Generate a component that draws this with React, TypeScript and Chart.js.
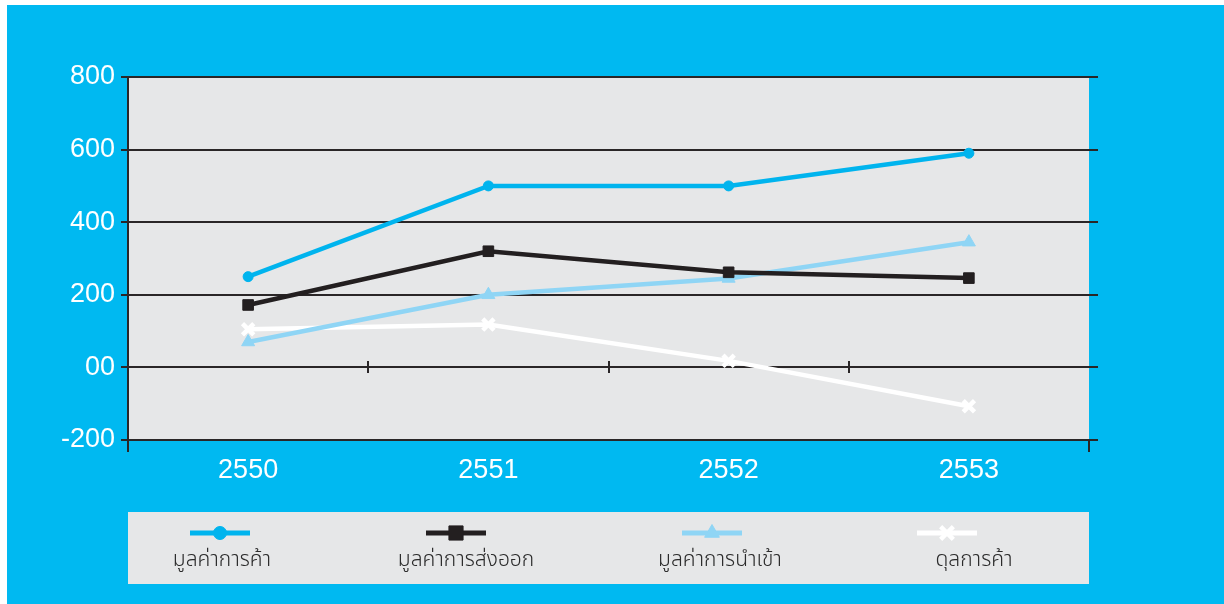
import React, { useEffect, useRef } from 'react';
import { Chart, registerables } from 'chart.js';
import { drawPoint } from 'chart.js/helpers';

Chart.register(...registerables);

// ---------- data ----------
const YEARS = ['2550', '2551', '2552', '2553'];
const TRADE_VALUE = [250, 500, 500, 590];
const EXPORT_VALUE = [172, 320, 262, 246];
const IMPORT_VALUE = [70, 200, 245, 345];
const TRADE_BALANCE = [105, 118, 18, -107];
const SERIES_LABELS = ['มูลค่าการค้า', 'มูลค่าการส่งออก', 'มูลค่าการนำเข้า', 'ดุลการค้า'];
const Y_TICKS = [-200, 0, 200, 400, 600, 800];
const Y_TICK_LABELS = ['-200', '00', '200', '400', '600', '800'];

// ---------- style ----------
const BG = '#00B9F1';
const PLOT_BG = '#E6E7E8';
const AXIS = '#2A2627';
const COLORS = ['#00B4EE', '#231F20', '#8FD5F5', '#FFFFFF'];
const STYLES = ['circle', 'rect', 'triangle', 'crossRot'];
const POINT_R = [5, 7.5, 7.5, 8];
const POINT_BW = [1, 1, 1, 4.5];
const LEGEND_R = [6.5, 10, 8.5, 9];
const LEGEND_BW = [1, 1, 1, 4.5];
const NUM_FONT = '"Liberation Sans", Arial, Helvetica, sans-serif';
const THAI_FONT = '"Noto Sans Thai", "Noto Sans Thai Looped", Loma, Garuda, "Tlwg Typo", "Noto Sans", sans-serif';

// layout (canvas coordinates)
const CANVAS_W = 1217;
const CANVAS_H = 599;
const LEGEND_BOX = { x: 121, y: 507, w: 961, h: 72 };
const LEGEND_LINE_X = [213, 449, 705, 940];
const LEGEND_TEXT_X = [215, 459, 713, 967];
const LEGEND_LINE_Y = 528;
const LEGEND_TEXT_Y = 557;
const LEGEND_LINE_HALF = 30;

const decor = {
  id: 'decor',
  beforeDraw(chart: any) {
    const { ctx, chartArea: a } = chart;
    ctx.save();
    ctx.fillStyle = PLOT_BG;
    ctx.fillRect(a.left, a.top, a.right - a.left, a.bottom - a.top);
    ctx.fillRect(LEGEND_BOX.x, LEGEND_BOX.y, LEGEND_BOX.w, LEGEND_BOX.h);
    ctx.restore();
  },
  beforeDatasetsDraw(chart: any) {
    const { ctx, chartArea: a } = chart;
    const xs = chart.scales.x;
    const ys = chart.scales.y;
    ctx.save();
    ctx.strokeStyle = AXIS;
    ctx.lineWidth = 2;
    const line = (x1: number, y1: number, x2: number, y2: number) => {
      ctx.beginPath();
      ctx.moveTo(x1, y1);
      ctx.lineTo(x2, y2);
      ctx.stroke();
    };
    ys.ticks.forEach((t: any) => {
      const py = Math.round(ys.getPixelForValue(t.value));
      line(a.right - 1, py, a.right + 9, py);
    });
    line(a.left, a.bottom, a.left, a.bottom + 12);
    line(a.right, a.bottom, a.right, a.bottom + 12);
    const y0 = Math.round(ys.getPixelForValue(0));
    for (let i = 1; i < YEARS.length; i++) {
      const bx = Math.round((xs.getPixelForValue(i - 1) + xs.getPixelForValue(i)) / 2);
      line(bx, y0 - 6, bx, y0 + 6);
    }
    ctx.restore();
  },
  afterDraw(chart: any) {
    const { ctx } = chart;
    ctx.save();
    chart.data.datasets.forEach((ds: any, i: number) => {
      const cx = LEGEND_LINE_X[i];
      ctx.strokeStyle = COLORS[i];
      ctx.fillStyle = COLORS[i];
      ctx.lineWidth = 5;
      ctx.beginPath();
      ctx.moveTo(cx - LEGEND_LINE_HALF, LEGEND_LINE_Y);
      ctx.lineTo(cx + LEGEND_LINE_HALF, LEGEND_LINE_Y);
      ctx.stroke();
      ctx.lineWidth = LEGEND_BW[i];
      drawPoint(ctx, { pointStyle: STYLES[i], radius: LEGEND_R[i], rotation: 0, borderWidth: LEGEND_BW[i] } as any, cx, LEGEND_LINE_Y);
      ctx.fillStyle = '#2B2B2B';
      ctx.font = `300 21px ${THAI_FONT}`;
      ctx.textAlign = 'center';
      ctx.textBaseline = 'middle';
      ctx.fillText(ds.label, LEGEND_TEXT_X[i], LEGEND_TEXT_Y);
    });
    ctx.restore();
  },
};

export default function App() {
  const ref = useRef<HTMLCanvasElement | null>(null);
  useEffect(() => {
    if (!ref.current) return;
    const series = [TRADE_VALUE, EXPORT_VALUE, IMPORT_VALUE, TRADE_BALANCE];
    const chart = new Chart(ref.current, {
      type: 'line',
      data: {
        labels: YEARS,
        datasets: series.map((d, i) => ({
          label: SERIES_LABELS[i],
          data: d,
          borderColor: COLORS[i],
          backgroundColor: COLORS[i],
          borderWidth: 4.5,
          tension: 0,
          fill: false,
          pointStyle: STYLES[i] as any,
          pointRadius: POINT_R[i],
          pointHoverRadius: POINT_R[i],
          pointBackgroundColor: COLORS[i],
          pointBorderColor: COLORS[i],
          pointBorderWidth: POINT_BW[i],
        })),
      },
      options: {
        responsive: false,
        animation: false,
        devicePixelRatio: 1,
        layout: { padding: { top: 72, right: 135, left: 0, bottom: 0 } },
        plugins: { legend: { display: false }, tooltip: { enabled: false } },
        scales: {
          x: {
            offset: true,
            grid: { display: false, drawTicks: false },
            border: { display: false },
            ticks: { color: '#FFFFFF', font: { family: NUM_FONT, size: 27 }, padding: 14, maxRotation: 0 },
            afterFit: (s: any) => { s.height = 164; },
          },
          y: {
            min: -200,
            max: 800,
            afterBuildTicks: (s: any) => { s.ticks = Y_TICKS.map((v) => ({ value: v })); },
            grid: { color: AXIS, lineWidth: 2, tickLength: 7, drawTicks: true },
            border: { display: true, color: AXIS, width: 2 },
            ticks: {
              color: '#FFFFFF',
              font: { family: NUM_FONT, size: 27 },
              padding: 6,
              callback: (v: any) => {
                const idx = Y_TICKS.indexOf(Number(v));
                return idx >= 0 ? Y_TICK_LABELS[idx] : '';
              },
            },
            afterFit: (s: any) => { s.width = 121; },
          },
        },
      },
      plugins: [decor],
    });
    return () => chart.destroy();
  }, []);

  return (
    <div style={{ position: 'absolute', left: 7, top: 5, width: CANVAS_W, height: CANVAS_H, background: BG }}>
      <canvas ref={ref} width={CANVAS_W} height={CANVAS_H} style={{ display: 'block', width: CANVAS_W, height: CANVAS_H }} />
    </div>
  );
}
